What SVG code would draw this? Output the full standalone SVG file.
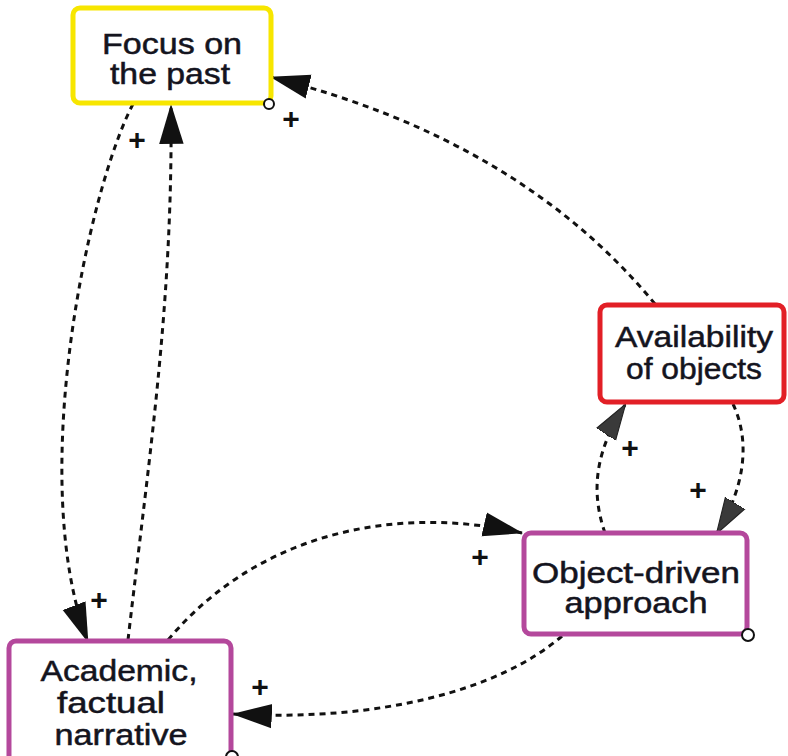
<svg xmlns="http://www.w3.org/2000/svg" width="788" height="756" viewBox="0 0 788 756">
  <defs>
    <style>
      .box { fill: #ffffff; stroke-width: 5; }
      .label { font-family: "Liberation Sans", Arial, sans-serif; font-size: 29px; fill: #14141e; stroke: #14141e; stroke-width: 0.5; text-anchor: middle; }
      .link { fill: none; stroke: #111; stroke-width: 3; stroke-dasharray: 6 5; }
      .sign { font-family: "Liberation Sans", Arial, sans-serif; font-size: 30px; font-weight: bold; fill: #111; text-anchor: middle; }
      .dot { fill: #fff; stroke: #111; stroke-width: 2; }
    </style>
    <marker id="arrow" markerUnits="userSpaceOnUse" markerWidth="40" markerHeight="30" viewBox="0 0 36 24" refX="35" refY="12" orient="auto">
      <path d="M0,1 L36,12 L0,23 Z" fill="#111"/>
    </marker>
    <marker id="arrow-grey" markerUnits="userSpaceOnUse" markerWidth="36" markerHeight="28" viewBox="0 0 32 22" refX="31" refY="11" orient="auto">
      <path d="M0,1 L32,11 L0,21 Z" fill="#3a3a3a" stroke="#222" stroke-width="1"/>
    </marker>
  </defs>

  <!-- connectors -->
  <g id="connectors">
    <path class="link" d="M133,104 C88,190 26,480 88,642" marker-end="url(#arrow)"/>
    <path class="link" d="M128,640 C150,450 173,300 171,105" marker-end="url(#arrow)"/>
    <path class="link" d="M655,304 Q520,140 271,77" marker-end="url(#arrow)"/>
    <path class="link" d="M605,533 C590,490 596,450 625,405" marker-end="url(#arrow-grey)"/>
    <path class="link" d="M733,404 C750,440 746,485 717,533" marker-end="url(#arrow-grey)"/>
    <path class="link" d="M168,640 C260,530 400,505 522,533" marker-end="url(#arrow)"/>
    <path class="link" d="M562,636 C500,690 380,722 233,714" marker-end="url(#arrow)"/>
  </g>

  <!-- polarity signs -->
  <g id="signs">
    <text class="sign" x="137" y="150">+</text>
    <text class="sign" x="291" y="129">+</text>
    <text class="sign" x="99" y="610">+</text>
    <text class="sign" x="630" y="458">+</text>
    <text class="sign" x="698" y="500">+</text>
    <text class="sign" x="480" y="567">+</text>
    <text class="sign" x="260" y="697">+</text>
  </g>

  <g id="focus-on-the-past">
    <rect class="box" x="73" y="8" width="198" height="95" rx="7" stroke="#f7e600"/>
    <text class="label" x="172" y="54" textLength="140" lengthAdjust="spacingAndGlyphs">Focus on</text>
    <text class="label" x="170" y="84" textLength="120" lengthAdjust="spacingAndGlyphs">the past</text>
    <circle class="dot" cx="269" cy="104" r="5"/>
  </g>

  <g id="availability-of-objects">
    <rect class="box" x="600" y="305" width="184" height="97" rx="7" stroke="#e21f26"/>
    <text class="label" x="694" y="347" textLength="158" lengthAdjust="spacingAndGlyphs">Availability</text>
    <text class="label" x="694" y="379" textLength="136" lengthAdjust="spacingAndGlyphs">of objects</text>
  </g>

  <g id="object-driven-approach">
    <rect class="box" x="524" y="533" width="223" height="101" rx="7" stroke="#b4489c"/>
    <text class="label" x="636" y="583" textLength="208" lengthAdjust="spacingAndGlyphs">Object-driven</text>
    <text class="label" x="636" y="613" textLength="143" lengthAdjust="spacingAndGlyphs">approach</text>
    <circle class="dot" cx="748" cy="635" r="6"/>
  </g>

  <g id="academic-factual-narrative">
    <rect class="box" x="9" y="641" width="222" height="130" rx="7" stroke="#b4489c"/>
    <text class="label" x="119" y="681" textLength="157" lengthAdjust="spacingAndGlyphs">Academic,</text>
    <text class="label" x="111" y="713" textLength="108" lengthAdjust="spacingAndGlyphs">factual</text>
    <text class="label" x="121" y="745" textLength="133" lengthAdjust="spacingAndGlyphs">narrative</text>
    <circle class="dot" cx="232" cy="757" r="6"/>
  </g>
</svg>
